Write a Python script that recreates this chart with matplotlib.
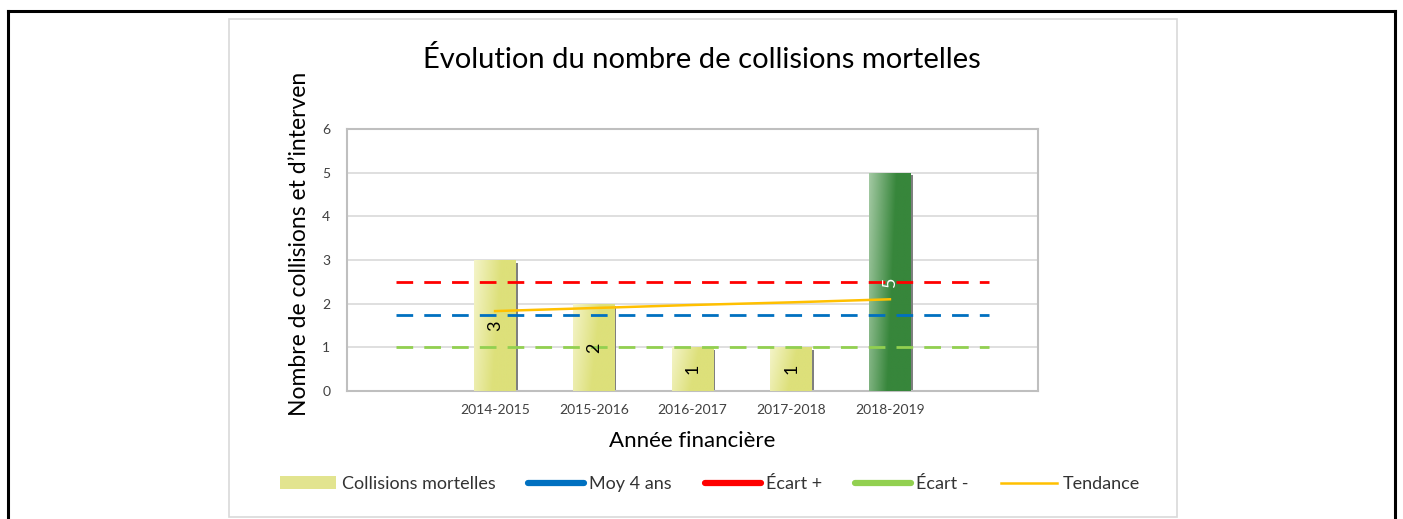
import numpy as np
import matplotlib.pyplot as plt
from matplotlib.lines import Line2D
from matplotlib.patches import Patch, Rectangle
from matplotlib.colors import to_rgb

plt.rcParams['font.family'] = ['Lato', 'DejaVu Sans']

# Données
annees = ['', '2014-2015', '2015-2016', '2016-2017', '2017-2018', '2018-2019', '']
collisions = [3, 2, 1, 1, 5]
moy_4_ans = 1.75
ecart_plus = 2.5
ecart_moins = 1.0
tendance = [1.83, 1.90, 1.97, 2.03, 2.10]

pos_barres = np.arange(1, 6)
pos_lignes = np.arange(0, 7)

fig = plt.figure(figsize=(14.03, 5.19), dpi=100)
W, H = 1403, 519

def fx(px):
    return px / W

def fy(py):
    return 1 - py / H

# Cadre noir extérieur
for (x0, y0, x1, y1) in [(8, 11, 1395, 11), (8, 11, 8, 519), (1395, 11, 1395, 519)]:
    fig.add_artist(Line2D([fx(x0), fx(x1)], [fy(y0), fy(y1)], color='black', lw=2.2,
                          transform=fig.transFigure, solid_capstyle='projecting'))
# Zone du graphique
fig.add_artist(Rectangle((fx(229), fy(517)), fx(1177) - fx(229), fy(19) - fy(517),
                         transform=fig.transFigure, fill=False, ec='#d9d9d9', lw=1.2))

ax = fig.add_axes([fx(347), fy(391), fx(1038) - fx(347), fy(129) - fy(391)])
ax.set_xlim(-0.5, 6.5)
ax.set_ylim(0, 6)
ax.set_yticks(range(7))
ax.set_xticks(range(7))
ax.set_xticklabels(annees)
ax.tick_params(length=0, labelsize=10, labelcolor='#404040', pad=9)
ax.tick_params(axis='y', pad=12)
ax.grid(axis='y', color='#d9d9d9', lw=1.2)
ax.set_axisbelow(True)
for s in ax.spines.values():
    s.set_color('#bfbfbf')
    s.set_linewidth(1.5)

# Barres avec ombre et dégradé
largeur = 0.42
couleurs = [('#f4f4c8', '#dde07a')] * 4 + [('#a3c9a3', '#37863b')]
ax.bar(pos_barres + 0.02, np.array(collisions) - 0.06, width=largeur, color='#7f7f7f', zorder=2)
barres = ax.bar(pos_barres, collisions, width=largeur, color='#dde07a', zorder=3)
for b, (c1, c2) in zip(barres, couleurs):
    c1, c2 = np.array(to_rgb(c1)), np.array(to_rgb(c2))
    u = np.linspace(0, 1, 60)[None, :]
    v = np.linspace(0, 1, 100)[:, None]
    t = np.clip(u * 1.5 + v * 0.35, 0, 1)
    img = c1 * (1 - t[..., None]) + c2 * t[..., None]
    x0 = b.get_x()
    im = ax.imshow(img, extent=(x0, x0 + b.get_width(), 0, b.get_height()),
                   aspect='auto', zorder=3.5, origin='upper')
    im.set_clip_path(b)

for x, v in zip(pos_barres, collisions):
    ax.text(x, v / 2, str(v), rotation=90, ha='center', va='center', fontsize=13,
            color='white' if v == 5 else 'black', zorder=6)

# Lignes
ax.plot(pos_lignes, [moy_4_ans] * 7, color='#0070c0', lw=2, dashes=(6, 4), zorder=4)
ax.plot(pos_lignes, [ecart_plus] * 7, color='#ff0000', lw=2, dashes=(6, 4), zorder=4)
ax.plot(pos_lignes, [ecart_moins] * 7, color='#92d050', lw=2, dashes=(6, 4), zorder=4)
ax.plot(pos_barres, tendance, color='#ffc000', lw=1.8, zorder=5)

# Titres
fig.text(fx(702), fy(60), 'Évolution du nombre de collisions mortelles', ha='center', va='center',
         fontsize=21)
fig.text(fx(692), fy(441), 'Année financière', ha='center', va='center', fontsize=16)
fig.text(fx(300), fy(416), 'Nombre de collisions et d’interven', rotation=90, ha='center',
         va='bottom', fontsize=16.5)

# Légende
poignees = [
    Patch(facecolor='#e2e48f', edgecolor='none'),
    Line2D([], [], color='#0070c0', lw=4.5, solid_capstyle='round'),
    Line2D([], [], color='#ff0000', lw=4.5, solid_capstyle='round'),
    Line2D([], [], color='#92d050', lw=4.5, solid_capstyle='round'),
    Line2D([], [], color='#ffc000', lw=1.8),
]
noms = ['Collisions mortelles', 'Moy 4 ans', 'Écart +', 'Écart -', 'Tendance']
leg = fig.legend(poignees, noms, loc='center', bbox_to_anchor=(fx(710), fy(484)), ncol=5,
                 frameon=False, fontsize=13, handlelength=3.1, handleheight=0.7,
                 handletextpad=0.3, columnspacing=1.8)
for t in leg.get_texts():
    t.set_color('#333333')

fig.savefig('out.png', dpi=100)
